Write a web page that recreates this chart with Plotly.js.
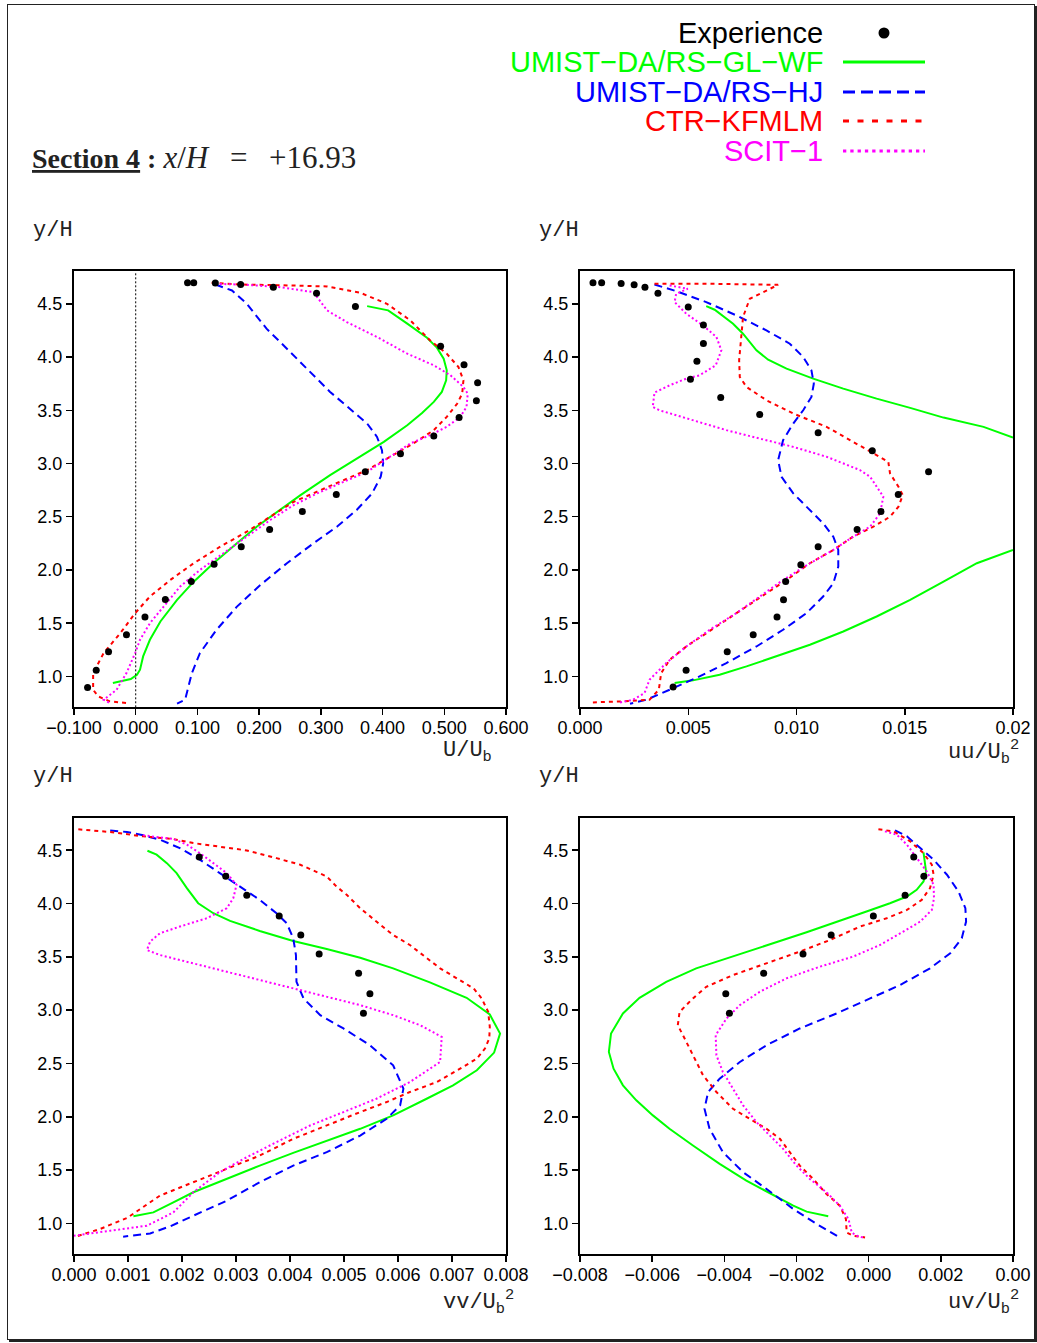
<!DOCTYPE html>
<html>
<head>
<meta charset="utf-8">
<script src="https://cdn.plot.ly/plotly-3.0.1.min.js"></script>
<style>
  html, body { margin: 0; padding: 0; background: #ffffff; }
  #clip { position: absolute; left: 0; top: 0; width: 1034px; height: 1343px; overflow: hidden; }
  #chart { width: 1037px; height: 1343px; }
  #frame { position: absolute; left: 7px; top: 4px; width: 1026px; height: 1334px;
           border: 1.5px solid #222; box-shadow: 2px 2px 0 #222; pointer-events: none; }
</style>
</head>
<body>
<div id="clip"><div id="chart"></div></div>
<div id="frame"></div>
<script>
// ---------- series names / colours ----------
const seriesNames = ["Experience", "UMIST\u2212DA/RS\u2212GL\u2212WF", "UMIST\u2212DA/RS\u2212HJ", "CTR\u2212KFMLM", "SCIT\u22121"];
const seriesColors = ["#000000", "#00ff00", "#0000ff", "#ff0000", "#ff00ff"];

// ---------- tick labels ----------
const yTickVals = [1.0, 1.5, 2.0, 2.5, 3.0, 3.5, 4.0, 4.5];
const yTickText = ["1.0", "1.5", "2.0", "2.5", "3.0", "3.5", "4.0", "4.5"];
const uTickVals = [-0.1, 0.0, 0.1, 0.2, 0.3, 0.4, 0.5, 0.6];
const uTickText = ["\u22120.100", "0.000", "0.100", "0.200", "0.300", "0.400", "0.500", "0.600"];
const uuTickVals = [0, 0.005, 0.010, 0.015, 0.020];
const uuTickText = ["0.000", "0.005", "0.010", "0.015", "0.02"];          // last label is cut in the original
const vvTickVals = [0, 0.001, 0.002, 0.003, 0.004, 0.005, 0.006, 0.007, 0.008];
const vvTickText = ["0.000", "0.001", "0.002", "0.003", "0.004", "0.005", "0.006", "0.007", "0.008"];
const uvTickVals = [-0.008, -0.006, -0.004, -0.002, 0.000, 0.002, 0.004];
const uvTickText = ["\u22120.008", "\u22120.006", "\u22120.004", "\u22120.002", "0.000", "0.002", "0.00"]; // last label is cut in the original

// ---------- Panel 1 : U/Ub ----------
const expU_x = [0.084, 0.094, 0.129, 0.170, 0.223, 0.293, 0.356, 0.494, 0.532, 0.554, 0.552, 0.524, 0.483, 0.429, 0.372, 0.325, 0.270, 0.217, 0.171, 0.127, 0.090, 0.048, 0.015, -0.015, -0.044, -0.064, -0.078];
const expU_y = [4.697, 4.697, 4.694, 4.681, 4.656, 4.600, 4.475, 4.100, 3.928, 3.759, 3.590, 3.431, 3.259, 3.091, 2.922, 2.709, 2.550, 2.381, 2.219, 2.053, 1.891, 1.722, 1.559, 1.391, 1.231, 1.059, 0.897];
const gwfU_x = [0.375, 0.409, 0.440, 0.472, 0.488, 0.499, 0.504, 0.503, 0.496, 0.483, 0.464, 0.440, 0.402, 0.364, 0.315, 0.267, 0.229, 0.196, 0.164, 0.126, 0.094, 0.067, 0.040, 0.023, 0.012, 0.007, 0.002, -0.008, -0.037];
const gwfU_y = [4.478, 4.438, 4.313, 4.181, 4.088, 3.984, 3.875, 3.781, 3.672, 3.578, 3.475, 3.359, 3.203, 3.063, 2.890, 2.703, 2.547, 2.406, 2.250, 2.063, 1.890, 1.719, 1.516, 1.344, 1.188, 1.063, 1.016, 0.975, 0.938];
const hjU_x = [0.129, 0.156, 0.180, 0.212, 0.245, 0.277, 0.315, 0.353, 0.375, 0.391, 0.399, 0.401, 0.397, 0.383, 0.358, 0.326, 0.288, 0.245, 0.202, 0.164, 0.131, 0.104, 0.091, 0.080, 0.067];
const hjU_y = [4.681, 4.625, 4.500, 4.266, 4.078, 3.891, 3.672, 3.484, 3.375, 3.250, 3.125, 3.000, 2.875, 2.719, 2.563, 2.406, 2.250, 2.063, 1.859, 1.656, 1.438, 1.219, 1.031, 0.781, 0.744];
const ctrU_x = [0.123, 0.169, 0.229, 0.310, 0.364, 0.407, 0.445, 0.477, 0.504, 0.523, 0.531, 0.529, 0.521, 0.504, 0.483, 0.450, 0.412, 0.375, 0.337, 0.299, 0.256, 0.218, 0.180, 0.137, 0.094, 0.056, 0.023, -0.001, -0.025, -0.052, -0.069, -0.069, -0.061, -0.042, -0.015];
const ctrU_y = [4.697, 4.681, 4.675, 4.663, 4.603, 4.500, 4.344, 4.156, 4.031, 3.906, 3.781, 3.656, 3.563, 3.438, 3.313, 3.188, 3.063, 2.938, 2.844, 2.750, 2.640, 2.500, 2.359, 2.219, 2.063, 1.906, 1.750, 1.594, 1.406, 1.219, 1.031, 0.875, 0.813, 0.766, 0.750];
const scitU_x = [0.129, 0.180, 0.234, 0.288, 0.294, 0.310, 0.342, 0.391, 0.440, 0.483, 0.510, 0.531, 0.538, 0.536, 0.526, 0.504, 0.477, 0.445, 0.412, 0.375, 0.337, 0.294, 0.256, 0.218, 0.180, 0.142, 0.104, 0.072, 0.045, 0.023, 0.007, -0.001, -0.015, -0.031, -0.052, -0.042];
const scitU_y = [4.688, 4.678, 4.656, 4.609, 4.563, 4.438, 4.328, 4.188, 4.031, 3.922, 3.828, 3.719, 3.656, 3.531, 3.438, 3.344, 3.266, 3.188, 3.063, 2.922, 2.828, 2.719, 2.609, 2.469, 2.313, 2.156, 2.000, 1.844, 1.656, 1.500, 1.344, 1.219, 1.031, 0.875, 0.781, 0.750];

// ---------- Panel 2 : uu/Ub^2 ----------
const expUU_x = [0.0006, 0.0010, 0.0019, 0.0025, 0.0030, 0.0036, 0.0050, 0.0057, 0.0057, 0.0054, 0.0051, 0.0065, 0.0083, 0.0110, 0.0135, 0.0161, 0.0147, 0.0139, 0.0128, 0.0110, 0.0102, 0.0095, 0.0094, 0.0091, 0.0080, 0.0068, 0.0049, 0.0043];
const expUU_y = [4.697, 4.697, 4.691, 4.678, 4.656, 4.600, 4.469, 4.300, 4.128, 3.959, 3.790, 3.619, 3.459, 3.288, 3.119, 2.922, 2.709, 2.550, 2.381, 2.219, 2.050, 1.891, 1.719, 1.559, 1.391, 1.231, 1.059, 0.900];
const gwfUU_x = [0.00583, 0.00622, 0.00707, 0.00753, 0.00815, 0.00869, 0.00954, 0.01077, 0.01216, 0.01370, 0.01525, 0.01679, 0.01864, 0.02000, null, 0.02000, 0.01833, 0.01679, 0.01525, 0.01370, 0.01216, 0.01062, 0.00907, 0.00769, 0.00645, 0.00522, 0.00437];
const gwfUU_y = [4.478, 4.444, 4.313, 4.219, 4.063, 3.975, 3.891, 3.797, 3.703, 3.609, 3.522, 3.431, 3.344, 3.244, null, 2.188, 2.063, 1.891, 1.719, 1.563, 1.422, 1.297, 1.188, 1.094, 1.016, 0.963, 0.938];
const hjUU_x = [0.00344, 0.00444, 0.00583, 0.00722, 0.00861, 0.00969, 0.01031, 0.01069, 0.01080, 0.01069, 0.01031, 0.00985, 0.00938, 0.00915, 0.00931, 0.00985, 0.01054, 0.01123, 0.01170, 0.01193, 0.01193, 0.01170, 0.01123, 0.01046, 0.00938, 0.00815, 0.00676, 0.00552, 0.00414, 0.00306, 0.00231];
const hjUU_y = [4.681, 4.619, 4.516, 4.391, 4.250, 4.125, 4.000, 3.875, 3.750, 3.625, 3.500, 3.375, 3.219, 3.031, 2.875, 2.719, 2.578, 2.438, 2.313, 2.188, 2.031, 1.875, 1.750, 1.594, 1.438, 1.281, 1.125, 1.000, 0.875, 0.781, 0.744];
const ctrUU_x = [0.00344, 0.00599, 0.00915, 0.00861, 0.00784, 0.00753, 0.00745, 0.00735, 0.00738, 0.00769, 0.00861, 0.00985, 0.01139, 0.01262, 0.01355, 0.01424, 0.01432, 0.01471, 0.01491, 0.01471, 0.01432, 0.01355, 0.01262, 0.01170, 0.01062, 0.00954, 0.00861, 0.00769, 0.00676, 0.00583, 0.00491, 0.00414, 0.00375, 0.00364, 0.00321, 0.00198, 0.00059];
const ctrUU_y = [4.688, 4.688, 4.678, 4.625, 4.547, 4.375, 4.188, 3.969, 3.813, 3.719, 3.594, 3.469, 3.344, 3.203, 3.094, 3.016, 2.906, 2.781, 2.703, 2.594, 2.500, 2.406, 2.313, 2.188, 2.063, 1.906, 1.781, 1.656, 1.531, 1.406, 1.281, 1.156, 1.031, 0.875, 0.781, 0.766, 0.756];
const scitUU_x = [0.00414, 0.00498, 0.00444, 0.00437, 0.00491, 0.00568, 0.00630, 0.00653, 0.00627, 0.00552, 0.00491, 0.00414, 0.00344, 0.00336, 0.00367, 0.00522, 0.00676, 0.00830, 0.00985, 0.01139, 0.01293, 0.01340, 0.01401, 0.01386, 0.01340, 0.01262, 0.01170, 0.01062, 0.00938, 0.00830, 0.00722, 0.00599, 0.00491, 0.00398, 0.00321, 0.00298, 0.00244, 0.00174];
const scitUU_y = [4.672, 4.641, 4.594, 4.516, 4.406, 4.297, 4.188, 4.063, 3.922, 3.828, 3.797, 3.734, 3.666, 3.531, 3.500, 3.406, 3.313, 3.234, 3.156, 3.063, 2.938, 2.875, 2.688, 2.531, 2.406, 2.313, 2.188, 2.063, 1.906, 1.750, 1.594, 1.438, 1.281, 1.125, 0.969, 0.844, 0.781, 0.750];

// ---------- Panel 3 : vv/Ub^2 ----------
const expVV_x = [0.00232, 0.00281, 0.00320, 0.00380, 0.00420, 0.00454, 0.00527, 0.00548, 0.00536];
const expVV_y = [4.436, 4.257, 4.078, 3.884, 3.705, 3.527, 3.345, 3.154, 2.972];
const gwfVV_x = [0.00136, 0.00153, 0.00172, 0.00190, 0.00209, 0.00230, 0.00258, 0.00289, 0.00344, 0.00406, 0.00468, 0.00530, 0.00591, 0.00659, 0.00727, 0.00770, 0.00789, 0.00778, 0.00746, 0.00702, 0.00653, 0.00591, 0.00530, 0.00468, 0.00406, 0.00344, 0.00283, 0.00221, 0.00184, 0.00147, 0.00110];
const gwfVV_y = [4.495, 4.458, 4.379, 4.285, 4.144, 4.003, 3.909, 3.837, 3.743, 3.649, 3.574, 3.492, 3.392, 3.260, 3.116, 2.959, 2.781, 2.602, 2.436, 2.295, 2.169, 2.013, 1.887, 1.777, 1.661, 1.542, 1.417, 1.292, 1.197, 1.103, 1.066];
const hjVV_x = [0.00067, 0.00098, 0.00128, 0.00159, 0.00196, 0.00233, 0.00270, 0.00307, 0.00344, 0.00375, 0.00394, 0.00406, 0.00411, 0.00412, 0.00425, 0.00456, 0.00499, 0.00548, 0.00591, 0.00610, 0.00604, 0.00579, 0.00530, 0.00468, 0.00406, 0.00344, 0.00283, 0.00221, 0.00178, 0.00141, 0.00091];
const hjVV_y = [4.686, 4.671, 4.640, 4.599, 4.520, 4.411, 4.285, 4.160, 4.034, 3.909, 3.815, 3.674, 3.517, 3.266, 3.110, 2.953, 2.828, 2.671, 2.483, 2.263, 2.107, 1.981, 1.824, 1.668, 1.542, 1.386, 1.213, 1.072, 0.972, 0.906, 0.875];
const ctrVV_x = [0.00008, 0.00067, 0.00128, 0.00184, 0.00221, 0.00270, 0.00320, 0.00375, 0.00419, 0.00468, 0.00486, 0.00505, 0.00530, 0.00560, 0.00591, 0.00622, 0.00647, 0.00678, 0.00709, 0.00740, 0.00755, 0.00767, 0.00770, 0.00769, 0.00761, 0.00746, 0.00715, 0.00672, 0.00622, 0.00579, 0.00530, 0.00468, 0.00406, 0.00344, 0.00283, 0.00221, 0.00159, 0.00098, 0.00048, 0.00000];
const ctrVV_y = [4.696, 4.671, 4.630, 4.605, 4.567, 4.536, 4.498, 4.426, 4.364, 4.254, 4.160, 4.082, 3.956, 3.831, 3.705, 3.611, 3.517, 3.392, 3.298, 3.204, 3.110, 2.984, 2.843, 2.734, 2.640, 2.545, 2.451, 2.326, 2.232, 2.138, 2.044, 1.918, 1.793, 1.636, 1.511, 1.386, 1.260, 1.050, 0.947, 0.871];
const scitVV_x = [0.00128, 0.00184, 0.00209, 0.00233, 0.00258, 0.00283, 0.00301, 0.00295, 0.00283, 0.00246, 0.00196, 0.00159, 0.00141, 0.00135, 0.00159, 0.00221, 0.00283, 0.00344, 0.00406, 0.00468, 0.00530, 0.00591, 0.00641, 0.00681, 0.00678, 0.00622, 0.00560, 0.00499, 0.00437, 0.00375, 0.00314, 0.00270, 0.00221, 0.00184, 0.00135, 0.00067, 0.00000];
const scitVV_y = [4.640, 4.605, 4.552, 4.473, 4.379, 4.285, 4.176, 4.050, 3.956, 3.862, 3.784, 3.721, 3.643, 3.564, 3.517, 3.439, 3.361, 3.282, 3.204, 3.125, 3.047, 2.953, 2.859, 2.749, 2.514, 2.326, 2.169, 2.044, 1.918, 1.762, 1.605, 1.480, 1.292, 1.103, 0.978, 0.931, 0.884];

// ---------- Panel 4 : uv/Ub^2 ----------
const expUV_x = [0.00125, 0.00153, 0.00101, 0.00013, -0.00104, -0.00182, -0.00291, -0.00396, -0.00386];
const expUV_y = [4.436, 4.257, 4.078, 3.884, 3.705, 3.527, 3.345, 3.154, 2.972];
const gwfUV_x = [0.00152, 0.00155, 0.00159, 0.00152, 0.00133, 0.00106, 0.00059, -0.00006, -0.00080, -0.00172, -0.00265, -0.00376, -0.00478, -0.00561, -0.00635, -0.00681, -0.00714, -0.00720, -0.00707, -0.00681, -0.00644, -0.00598, -0.00552, -0.00487, -0.00413, -0.00339, -0.00265, -0.00209, -0.00172, -0.00112];
const gwfUV_y = [4.480, 4.395, 4.301, 4.207, 4.129, 4.066, 4.003, 3.925, 3.837, 3.730, 3.627, 3.502, 3.392, 3.266, 3.116, 2.969, 2.781, 2.608, 2.451, 2.295, 2.154, 2.013, 1.887, 1.730, 1.558, 1.401, 1.266, 1.166, 1.110, 1.066];
const hjUV_x = [0.00073, 0.00106, 0.00143, 0.00180, 0.00217, 0.00249, 0.00268, 0.00270, 0.00258, 0.00226, 0.00170, 0.00087, 0.00004, -0.00089, -0.00191, -0.00283, -0.00357, -0.00413, -0.00445, -0.00455, -0.00441, -0.00404, -0.00348, -0.00283, -0.00209, -0.00144, -0.00080];
const hjUV_y = [4.686, 4.630, 4.520, 4.411, 4.270, 4.113, 3.956, 3.831, 3.674, 3.533, 3.392, 3.235, 3.110, 2.969, 2.828, 2.671, 2.514, 2.357, 2.232, 2.075, 1.887, 1.668, 1.480, 1.323, 1.135, 0.994, 0.868];
const ctrUV_x = [0.00027, 0.00069, 0.00115, 0.00152, 0.00175, 0.00180, 0.00170, 0.00147, 0.00106, 0.00050, -0.00024, -0.00107, -0.00191, -0.00283, -0.00376, -0.00450, -0.00487, -0.00524, -0.00529, -0.00510, -0.00487, -0.00459, -0.00422, -0.00376, -0.00330, -0.00283, -0.00246, -0.00219, -0.00191, -0.00154, -0.00117, -0.00080, -0.00063, -0.00061, -0.00043, -0.00010];
const ctrUV_y = [4.696, 4.677, 4.583, 4.473, 4.364, 4.270, 4.144, 4.034, 3.940, 3.862, 3.784, 3.658, 3.549, 3.439, 3.329, 3.219, 3.110, 2.984, 2.859, 2.734, 2.577, 2.389, 2.232, 2.075, 1.981, 1.887, 1.793, 1.668, 1.542, 1.417, 1.276, 1.166, 1.041, 0.915, 0.884, 0.868];
const scitUV_x = [0.00045, 0.00078, 0.00106, 0.00133, 0.00161, 0.00180, 0.00181, 0.00175, 0.00143, 0.00096, 0.00031, -0.00043, -0.00135, -0.00228, -0.00302, -0.00357, -0.00394, -0.00424, -0.00422, -0.00404, -0.00376, -0.00348, -0.00311, -0.00274, -0.00237, -0.00200, -0.00163, -0.00117, -0.00080, -0.00056, -0.00047, -0.00033, -0.00010];
const scitUV_y = [4.677, 4.646, 4.552, 4.426, 4.301, 4.176, 4.050, 3.940, 3.831, 3.737, 3.611, 3.502, 3.408, 3.298, 3.172, 3.047, 2.922, 2.765, 2.577, 2.420, 2.263, 2.107, 1.950, 1.824, 1.699, 1.542, 1.417, 1.292, 1.166, 1.041, 0.915, 0.884, 0.862];

// ---------- axis labels ----------
const xTitles = ["U/U<sub>b</sub>", "uu/U<sub>b</sub><sup>2</sup>", "vv/U<sub>b</sub><sup>2</sup>", "uv/U<sub>b</sub><sup>2</sup>"];
const yTitle = "y/H";
const titleText = "<b><u>Section 4</u> :</b> <span style=\"font-size:31px\"><i>x</i>/<i>H</i>\u00a0\u00a0\u2009=\u00a0\u00a0\u2009+16.93</span>";

// ---------- build ----------
const W = 1037, H = 1343;
const px = v => v / W;
const py = v => 1 - v / H;

const dashes = ["solid", "8px,5px", "4px,4px", "2px,2.5px"];
const panels = [
  {xa: "x",  ya: "y",  exp: [expU_x, expU_y],   s: [[gwfU_x, gwfU_y], [hjU_x, hjU_y], [ctrU_x, ctrU_y], [scitU_x, scitU_y]]},
  {xa: "x2", ya: "y2", exp: [expUU_x, expUU_y], s: [[gwfUU_x, gwfUU_y], [hjUU_x, hjUU_y], [ctrUU_x, ctrUU_y], [scitUU_x, scitUU_y]]},
  {xa: "x3", ya: "y3", exp: [expVV_x, expVV_y], s: [[gwfVV_x, gwfVV_y], [hjVV_x, hjVV_y], [ctrVV_x, ctrVV_y], [scitVV_x, scitVV_y]]},
  {xa: "x4", ya: "y4", exp: [expUV_x, expUV_y], s: [[gwfUV_x, gwfUV_y], [hjUV_x, hjUV_y], [ctrUV_x, ctrUV_y], [scitUV_x, scitUV_y]]}
];

const traces = [];
panels.forEach(p => {
  p.s.forEach((xy, i) => {
    traces.push({
      x: xy[0], y: xy[1], xaxis: p.xa, yaxis: p.ya, type: "scatter", mode: "lines",
      name: seriesNames[i + 1], connectgaps: false, showlegend: false, hoverinfo: "skip",
      line: {color: seriesColors[i + 1], width: 2, dash: dashes[i]}
    });
  });
});
panels.forEach(p => {
  traces.push({
    x: p.exp[0], y: p.exp[1], xaxis: p.xa, yaxis: p.ya, type: "scatter", mode: "markers",
    name: seriesNames[0], showlegend: false, hoverinfo: "skip",
    marker: {color: "#000000", size: 7}
  });
});

const tickFont = {family: "Liberation Sans, Arial, sans-serif", size: 18, color: "#000"};
function axis(extra) {
  return Object.assign({
    showline: true, linecolor: "#000", linewidth: 2, mirror: true,
    ticks: "outside", ticklen: 6, tickwidth: 1.5, tickcolor: "#000",
    showgrid: false, zeroline: false, tickfont: tickFont, fixedrange: true,
    tickmode: "array"
  }, extra);
}
const xLeft = [px(74), px(506)], xRight = [px(580), px(1013)];
const yTop = [py(707.3), py(271.3)], yBot = [py(1254.3), py(817.7)];
const yRange = [0.71, 4.805];
const yCommon = {range: yRange, tickvals: yTickVals, ticktext: yTickText};
const xStand = {ticklabelstandoff: -3};

const monoFont = {family: "Liberation Mono, Courier New, monospace", size: 22, color: "#222"};
const annotations = [];
annotations.push({xref: "paper", yref: "paper", x: px(30), y: py(157), xanchor: "left", yanchor: "middle",
  text: titleText, showarrow: false, font: {family: "Liberation Serif, Times New Roman, serif", size: 28, color: "#222"}});
[[31, 231], [537, 231], [31, 776], [537, 776]].forEach(p => {
  annotations.push({xref: "paper", yref: "paper", x: px(p[0]), y: py(p[1]), xanchor: "left", yanchor: "middle",
    text: yTitle, showarrow: false, font: monoFont});
});
[[441, 752], [946, 752], [441, 1302], [946, 1302]].forEach((p, i) => {
  annotations.push({xref: "paper", yref: "paper", x: px(p[0]), y: py(p[1]), xanchor: "left", yanchor: "middle",
    text: xTitles[i], showarrow: false, font: monoFont});
});
// legend texts
const legendRows = [33, 62, 92, 121, 151];
legendRows.forEach((r, i) => {
  annotations.push({xref: "paper", yref: "paper", x: px(825), y: py(r), xanchor: "right", yanchor: "middle",
    text: seriesNames[i], showarrow: false,
    font: {family: "Liberation Sans, Arial, sans-serif", size: 29, color: seriesColors[i]}});
});

const shapes = [];
// legend samples
shapes.push({type: "circle", xref: "paper", yref: "paper", x0: px(878.5), x1: px(889.5), y0: py(38.5), y1: py(27.5),
  fillcolor: "#000", line: {width: 0}});
const legendDash = ["solid", "12px,6px", "6px,8.5px", "3.3px,4px"];
for (let i = 1; i < 5; i++) {
  shapes.push({type: "line", xref: "paper", yref: "paper", x0: px(843), x1: px(925), y0: py(legendRows[i]), y1: py(legendRows[i]),
    line: {color: seriesColors[i], width: 3.2, dash: legendDash[i - 1]}});
}
// zero reference in U panel
const zeroRef = 0;
shapes.push({type: "line", xref: "x", yref: "y domain", x0: zeroRef, x1: zeroRef, y0: 0, y1: 1,
  line: {color: "#000", width: 1, dash: "2px,2px"}});

const layout = {
  width: W, height: H, margin: {l: 0, r: 0, t: 0, b: 0},
  paper_bgcolor: "rgba(0,0,0,0)", plot_bgcolor: "#fff", showlegend: false,
  xaxis:  axis(Object.assign({domain: xLeft,  anchor: "y",  range: [-0.1, 0.6],     tickvals: uTickVals,  ticktext: uTickText}, xStand)),
  yaxis:  axis(Object.assign({domain: yTop, anchor: "x"}, yCommon)),
  xaxis2: axis(Object.assign({domain: xRight, anchor: "y2", range: [0, 0.02],       tickvals: uuTickVals, ticktext: uuTickText}, xStand)),
  yaxis2: axis(Object.assign({domain: yTop, anchor: "x2"}, yCommon)),
  xaxis3: axis(Object.assign({domain: xLeft,  anchor: "y3", range: [0, 0.008],      tickvals: vvTickVals, ticktext: vvTickText}, xStand)),
  yaxis3: axis(Object.assign({domain: yBot, anchor: "x3"}, yCommon)),
  xaxis4: axis(Object.assign({domain: xRight, anchor: "y4", range: [-0.008, 0.004], tickvals: uvTickVals, ticktext: uvTickText}, xStand)),
  yaxis4: axis(Object.assign({domain: yBot, anchor: "x4"}, yCommon)),
  annotations: annotations, shapes: shapes
};

Plotly.newPlot("chart", traces, layout, {displayModeBar: false, staticPlot: true});
</script>
</body>
</html>
